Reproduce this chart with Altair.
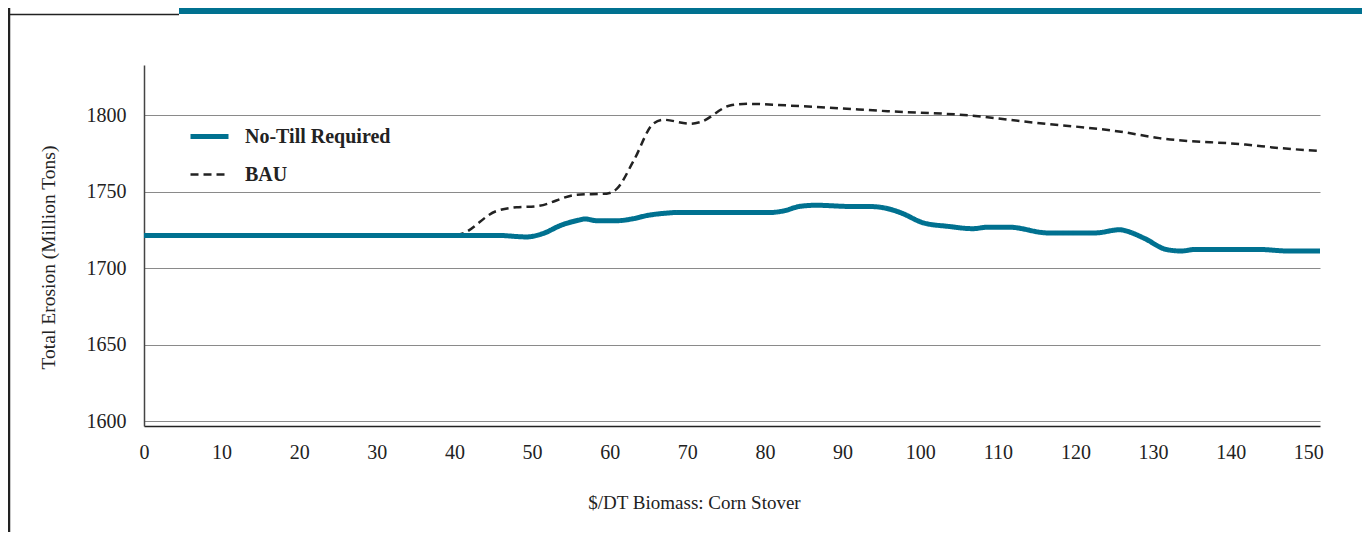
import altair as alt
import pandas as pd

# ---- data ----
notill_x = [0, 40, 45.5, 49.3, 51.5, 53.6, 56.2, 56.8, 58.3, 60.9, 63, 64.8, 67.4, 68.7,
            80.7, 82.4, 84.5, 86.6, 91.2, 93.5, 96.2, 97.6, 100.4, 103.6, 106.8, 108.7,
            111.4, 116.5, 122.5, 125.7, 126.6, 128.9, 131.7, 133.6, 135.4, 143.7, 147.4, 151.5]
notill_y = [1721.6, 1721.6, 1721.6, 1720.6, 1723.0, 1728.0, 1731.8, 1732.4, 1731.2, 1731.2,
            1732.5, 1734.6, 1736.2, 1736.6, 1736.6, 1737.6, 1740.6, 1741.3, 1740.5, 1740.5,
            1738.6, 1736.2, 1729.8, 1727.5, 1726.0, 1727.0, 1727.0, 1723.2, 1723.2, 1725.3,
            1724.4, 1719.6, 1712.4, 1711.4, 1712.4, 1712.4, 1711.4, 1711.4]

bau_x = [0, 40.3, 45.4, 48, 50.6, 55.8, 59.6, 60.9, 63.1, 65.6, 66.9, 70.4, 71.6, 75.5,
         77.7, 84.5, 95.8, 106.4, 114.2, 126.2, 130.8, 141.9, 146.5, 151.5]
bau_y = [1721.6, 1722.0, 1737.5, 1740.0, 1740.7, 1748.2, 1748.9, 1752.0, 1770.6, 1794.6,
         1797.2, 1794.6, 1795.6, 1806.5, 1807.6, 1806.1, 1802.8, 1800.0, 1795.6, 1789.1,
         1785.2, 1781.0, 1778.6, 1776.8]

series_names = ["No-Till Required", "BAU"]
x_ticks = list(range(0, 151, 10))
y_ticks = [1600, 1650, 1700, 1750, 1800]

TEAL = "#007190"
DARK = "#222222"
FONT = "Liberation Serif"

rows = []
# BAU first so the teal line is drawn on top of it
for i, (xv, yv) in enumerate(zip(bau_x, bau_y)):
    rows.append({"price": xv, "erosion": yv, "series": series_names[1], "o": i})
for i, (xv, yv) in enumerate(zip(notill_x, notill_y)):
    rows.append({"price": xv, "erosion": yv, "series": series_names[0], "o": i})
df = pd.DataFrame(rows)

lines = alt.Chart(df).mark_line(interpolate="monotone").encode(
    x=alt.X("price:Q",
            scale=alt.Scale(domain=[0, 151.5], nice=False, zero=False),
            axis=alt.Axis(values=x_ticks, grid=False, ticks=False, labelFlush=False,
                          domainColor=DARK, domainWidth=1.5,
                          labelFont=FONT, labelFontSize=20, labelColor=DARK,
                          labelPadding=16,
                          title="$/DT Biomass: Corn Stover",
                          titleFont=FONT, titleFontSize=19, titleFontWeight="normal",
                          titleColor=DARK, titleX=550, titleY=76,
                          titleBaseline="middle", titleAlign="center")),
    y=alt.Y("erosion:Q",
            scale=alt.Scale(domain=[1597, 1833], nice=False, zero=False),
            axis=alt.Axis(values=y_ticks, format="d", grid=True, gridColor="#8a8a8a",
                          gridWidth=1, ticks=False, domainColor="#444444", domainWidth=1.5,
                          labelFont=FONT, labelFontSize=20, labelColor=DARK,
                          labelPadding=18,
                          title="Total Erosion (Million Tons)",
                          titleFont=FONT, titleFontSize=19.5, titleFontWeight="normal",
                          titleColor=DARK, titleX=-96, titleY=192,
                          titleBaseline="middle", titleAlign="center")),
    color=alt.Color("series:N",
                    scale=alt.Scale(domain=series_names, range=[TEAL, DARK]),
                    legend=alt.Legend(title=None, orient="none", legendX=44, legendY=50,
                                      symbolType="stroke", symbolSize=1444,
                                      labelFont=FONT, labelFontSize=20,
                                      labelFontWeight="bold", labelColor=DARK,
                                      labelOffset=14, rowPadding=7)),
    strokeDash=alt.StrokeDash("series:N",
                              scale=alt.Scale(domain=series_names, range=[[1, 0], [8, 5]]),
                              legend=alt.Legend(title=None)),
    strokeWidth=alt.StrokeWidth("series:N",
                                scale=alt.Scale(domain=series_names, range=[5, 2.5]),
                                legend=alt.Legend(title=None)),
    order=alt.Order("o:Q"),
)

deco = alt.Data(values=[{"k": 1}])
top_bar = alt.Chart(deco).mark_rule(color=TEAL, strokeWidth=6).encode(
    x=alt.value(35), x2=alt.value(1218), y=alt.value(-54))
top_thin = alt.Chart(deco).mark_rule(color=DARK, strokeWidth=1.5).encode(
    x=alt.value(-136), x2=alt.value(35), y=alt.value(-50.5))
left_line = alt.Chart(deco).mark_rule(color=DARK, strokeWidth=2.5).encode(
    x=alt.value(-135), y=alt.value(-57), y2=alt.value(467))

chart = alt.layer(lines, top_bar, top_thin, left_line).properties(
    width=1176, height=361,
    autosize=alt.AutoSizeParams(type="none"),
    padding={"left": 136, "top": 57, "right": 42, "bottom": 106},
    background="white",
).configure_view(strokeWidth=0)

chart.save("out.html", embed_options={"renderer": "svg", "actions": False})
